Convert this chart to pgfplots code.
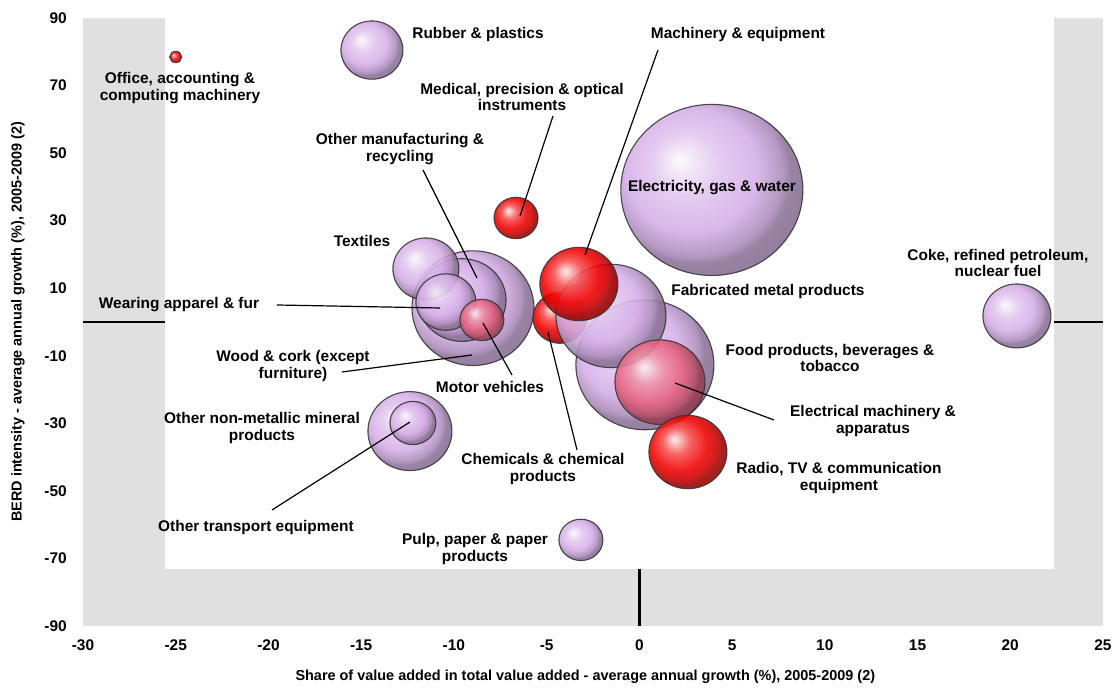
\documentclass[border=0pt]{standalone}
\usepackage{fontspec}
\setmainfont{Liberation Sans}
\usepackage{pgfplots}
\usepackage{pgfplotstable}
\pgfplotsset{compat=1.18}
\definecolor{lav}{RGB}{214,174,232}
\definecolor{pinkb}{RGB}{232,98,130}
\definecolor{redb}{RGB}{242,0,0}
\definecolor{bggray}{RGB}{224,224,224}
\colorlet{bc}{lav}
\pgfdeclareradialshading[bc]{myball}{\pgfqpoint{-9bp}{9bp}}{%
  color(0bp)=(bc!8!white); color(9bp)=(bc!70!white); color(18bp)=(bc);
  color(24bp)=(bc!80!black); color(26bp)=(bc!65!black); color(50bp)=(bc!50!black)}

\pgfdeclareplotmark{bubble}{%
  \pgfmathtruncatemacro\cc{\ccode}%
  \ifcase\cc\or\colorlet{bc}{redb}\or\colorlet{bc}{lav}\or\colorlet{bc}{pinkb}\fi
  \shadedraw[shading=myball, draw=black!80, line width=1.1bp, opacity=0.88]
    (0pt,0pt) ellipse [x radius=\rad bp, y radius={0.94*\rad bp}];}

% x, y: growth values; r: bubble radius (bp); c: colour (1 red, 2 lavender, 3 pink)
\pgfplotstableread{
x      y      r   c
3.91   39.1   91  2
0.30  -12.7   69  2
-8.97  4.1    61  2
-4.28  1.2    27  1
-1.53  1.8    55  2
1.11  -17.8   45  3
-9.56  6.5    44  2
-12.37 -32.3  42  2
-3.26  11.25  39  1
2.62  -38.5   39  1
20.36  1.8    34  2
-11.51 15.7   33  2
-14.42 80.5   31  2
-10.43 5.9    30  2
-12.21 -29.9  23  2
-6.65  30.8   22  1
-3.15 -64.5   22  2
-8.49  0.6    22  3
-25.0  78.45  6   1
}\bubbles

\begin{document}
\begin{tikzpicture}
\begin{axis}[
  scale only axis, width=1020bp, height=608bp,
  xmin=-30, xmax=25, ymin=-90, ymax=90,
  xtick={-30,-25,...,25}, ytick={-90,-70,...,90},
  axis line style={draw=none},
  major tick length=0pt,
  axis background/.style={fill=bggray},
  clip=false,
  ticklabel style={font=\fontsize{15.5}{17}\selectfont\bfseries},
  /pgf/number format/assume math mode=true,
  yticklabel style={anchor=east, inner sep=0pt, xshift=-16bp},
  xticklabel style={anchor=north, inner sep=0pt, yshift=-14bp},
  xlabel={Share of value added in total value added - average annual growth (\%), 2005-2009 (2)},
  ylabel={BERD intensity - average annual growth (\%), 2005-2009 (2)},
  label style={font=\fontsize{14.5}{16}\selectfont\bfseries},
  xlabel style={at={(axis description cs:0.4925,-0.0839)}, anchor=center},
  ylabel style={at={(axis description cs:-0.0637,0.5)}, anchor=center},
]
\fill[white] (axis cs:-25.58,-73.2) rectangle (axis cs:22.36,90);
\draw[black, line width=2.4bp] (axis cs:-30,0) -- (axis cs:-25.58,0);
\draw[black, line width=2.4bp] (axis cs:22.36,0) -- (axis cs:25,0);
\draw[black, line width=2.4bp] (axis cs:0,-90) -- (axis cs:0,-73.2);
\addplot[scatter, only marks, mark=bubble,
  visualization depends on={\thisrow{r}\as\rad},
  visualization depends on={\thisrow{c}\as\ccode},
] table[x=x,y=y] {\bubbles};
\coordinate (TL) at (rel axis cs:0,1);
\end{axis}
\begin{scope}[shift={(TL)}, x=1bp, y=-1bp, shift={(-83,-18)},
  every node/.style={font=\fontsize{15.5}{17}\selectfont\bfseries, align=center, inner sep=0pt}]
\node at (180,88) {Office, accounting \&\\computing machinery};
\node at (478,35) {Rubber \& plastics};
\node at (738,35) {Machinery \& equipment};
\node at (522,97) {Medical, precision \& optical\\instruments};
\node at (400,149) {Other manufacturing \&\\recycling};
\node at (712,188) {Electricity, gas \& water};
\node at (362,241) {Textiles};
\node at (998,263) {Coke, refined petroleum,\\nuclear fuel};
\node at (768,292) {Fabricated metal products};
\node at (179,305) {Wearing apparel \& fur};
\node at (293,366) {Wood \& cork (except\\furniture)};
\node at (490,387) {Motor vehicles};
\node at (262,428) {Other non-metallic mineral\\products};
\node at (256,528) {Other transport equipment};
\node at (543,469) {Chemicals \& chemical\\products};
\node at (830,358) {Food products, beverages \&\\tobacco};
\node at (873,421) {Electrical machinery \&\\apparatus};
\node at (839,478) {Radio, TV \& communication\\equipment};
\node at (475,549) {Pulp, paper \& paper\\products};
\begin{scope}[line width=1.2bp]
\draw (658,50) -- (585,255);
\draw (553,116) -- (520,216);
\draw (423,170) -- (477,278);
\draw (277,305) -- (440,308);
\draw (342,372) -- (472,355);
\draw (512,375) -- (483,323);
\draw (272,510) -- (410,422);
\draw (577,450) -- (548,332);
\draw (675,383) -- (774,420);
\end{scope}
\end{scope}
\pgfresetboundingbox
\path[use as bounding box] (TL) ++(-83bp,18bp) rectangle ++(1117bp,-690bp);
\end{tikzpicture}
\end{document}
